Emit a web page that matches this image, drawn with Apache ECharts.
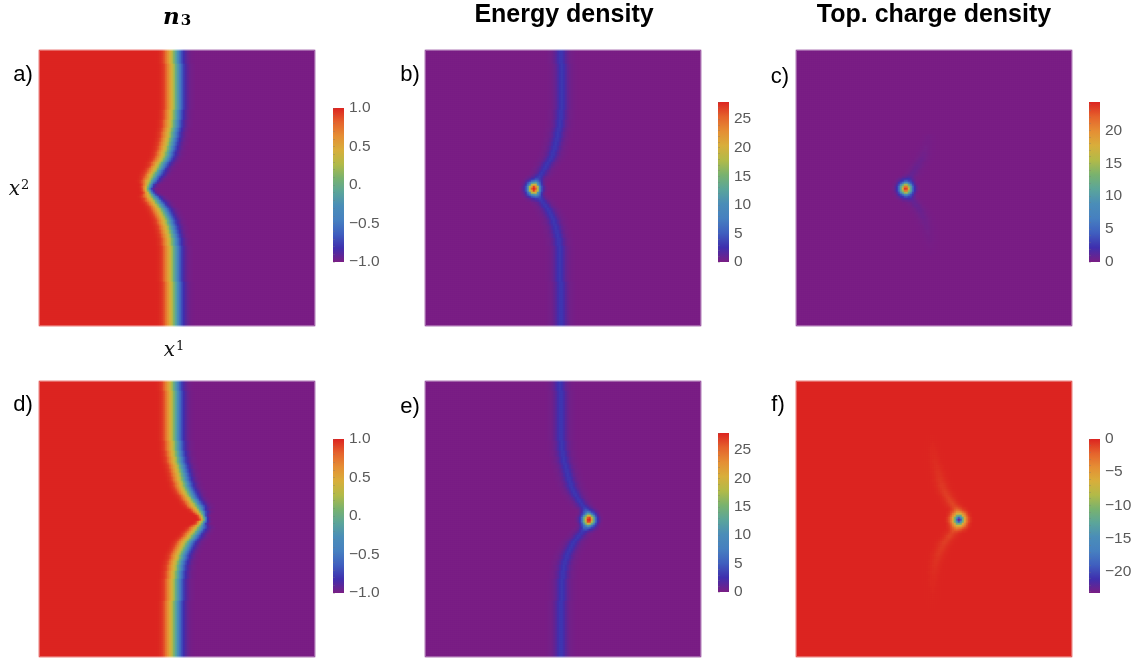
<!DOCTYPE html>
<html><head><meta charset="utf-8">
<style>html,body{margin:0;padding:0;background:#fff}#c{width:1147px;height:659px}</style>
<script src="https://cdn.jsdelivr.net/npm/echarts@6/dist/echarts.min.js"></script>
</head><body><div id="c"></div>
<script>
const wallA=[136,136,136.1,136.2,136.3,136.4,136.5,136.6,136.7,136.7,136.8,136.8,136.9,136.9,137,137,137,137,137,137,137,137,137,137,137,136.9,136.8,136.8,136.7,136.6,136.5,136.4,136.2,136,135.8,135.5,135.2,134.9,134.6,134.2,133.8,133.4,133,132.6,132.2,131.7,131.3,130.8,130.3,129.8,129.2,128.5,127.7,126.8,125.7,124.6,123.4,122.2,121,119.8,118.5,117.3,116.1,114.9,113.7,112.5,111.5,110.5,109.7,109,109.8,111,112.2,113.6,115.2,116.8,118.4,119.8,121.2,122.6,123.8,125,126,127,127.9,128.8,129.5,130.2,130.9,131.5,132,132.5,133,133.4,133.7,134,134.3,134.5,134.7,134.9,135,135.1,135.2,135.3,135.4,135.4,135.4,135.4,135.4,135.4,135.5,135.5,135.5,135.5,135.5,135.5,135.6,135.6,135.6,135.6,135.6,135.7,135.7,135.7,135.7,135.7,135.8,135.8,135.8,135.8,135.9,135.9,135.9,135.9,136,136,136,136];
const wallD=[135.5,135.5,135.5,135.5,135.5,135.6,135.6,135.6,135.6,135.6,135.7,135.7,135.7,135.7,135.7,135.9,135.9,135.9,135.9,135.9,136,136,136,136,136,136.1,136.1,136.2,136.3,136.4,136.6,136.8,137,137.1,137.3,137.6,137.9,138.2,138.6,139,139.5,140,140.6,141.2,141.9,142.2,142.8,143.4,144,144.5,145,145.6,146.4,147.2,148,149,150,151.2,152.5,153.8,155.2,156.6,158,159.3,160.6,162,163,164,165,165.5,164,162.8,161.6,160.3,159,157.4,155.8,154.2,152.6,151,149.5,148.2,147,146,145,144,143.2,142.4,141.7,141,140.4,139.9,139.4,139,138.6,138.3,138,137.8,137.6,137.4,137.2,137,136.9,136.8,136.7,136.6,136.6,136.6,136.6,136.6,136.5,136.5,136.5,136.5,136.5,136.4,136.4,136.4,136.4,136.4,136.4,136.3,136.3,136.3,136.3,136.3,136.3,136.2,136.2,136.2,136.2,136.2,136.1,136.1,136.1,136,136,136];
// horizontal squeeze of the wall, one value per 3-unit row
const widthA=[1,1,1,1,1,1,1,1,1,1,1,1,1,1,1,1,1,1,1,1,1,1,1,1,1,1,1,1,1,1,1,1,1,1,1,1,1,1,0.95,0.95,0.95,0.95,0.9,0.85,0.75,0.6,0.5,0.55,0.7,0.85,0.95,0.95,0.95,1,1,1,1,1,1,1,1,1,1,1,1,1,1,1,1,1,1,1,1,1,1,1,1,1,1,1,1,1,1,1,1,1,1,1,1,1,1,1];
const widthD=[1,1,1,1,1,1,1,1,1,1,1,1,1,1,1,1,1,1,1,1,1,1,1,1,1,1,1,1,1,1,1,1,1,1,1,1,1,1,0.95,0.95,0.95,0.95,0.9,0.75,0.6,0.45,0.4,0.55,0.75,0.9,0.95,0.95,1,1,1,1,1,1,1,1,1,1,1,1,1,1,1,1,1,1,1,1,1,1,1,1,1,1,1,1,1,1,1,1,1,1,1,1,1,1,1,1];
// n3 across the wall, one value per unit of offset from -21 to +21
const n3Profile=[1,1,0.998,0.995,0.99,0.985,0.975,0.96,0.945,0.925,0.88,0.82,0.75,0.68,0.62,0.55,0.48,0.42,0.34,0.24,0.12,0,-0.09,-0.18,-0.29,-0.42,-0.53,-0.62,-0.7,-0.76,-0.82,-0.86,-0.89,-0.92,-0.94,-0.96,-0.97,-0.98,-0.985,-0.99,-0.995,-1,-1];
// energy density of the wall, one value per unit of distance from the wall
const bandProfile=[3,2.9,2.6,2.2,1.8,1.4,1.05,0.8,0.6,0.45,0.33,0.25,0.18,0.12,0.08,0.05,0.03,0.02,0];
// lump cores, one value per unit of distance from the lump centre
const spotEnergy=[28,26.5,24,20.5,17,13.5,9.5,6,4,2.7,1.7,1,0.6,0.3,0.1,0];
const spotCharge=[23.5,22.5,20,17,14,11,8,5,3.3,2.2,1.4,0.8,0.45,0.2,0.1,0];
const spotChargeNeg=[-22,-21,-18,-14,-10.5,-7.5,-5.5,-4,-2.9,-2,-1.3,-0.8,-0.5,-0.25,-0.1,0];
// faint charge trails along the wall (fraction of bandProfile per 3-unit row)
const trailC=[0,0,0,0,0,0,0,0,0,0,0,0,0,0,0,0,0,0,0,0,0,0,0,0,0,0,0,0,0.03,0.04,0.05,0.06,0.07,0.08,0.1,0.12,0.14,0.16,0.18,0.2,0.23,0.25,0.28,0.3,0.33,0.36,0.36,0.36,0.33,0.3,0.28,0.25,0.23,0.2,0.18,0.16,0.14,0.13,0.11,0.1,0.08,0.07,0.06,0.05,0.04,0.03,0.02,0.02,0.01,0,0,0,0,0,0,0,0,0,0,0,0,0,0,0,0,0,0,0,0,0,0,0];
const trailF=[0,0,0,0,0,0,0,0,0,0,0,0,0,0,0,0,0,0,0.02,0.02,0.03,0.04,0.05,0.06,0.07,0.08,0.09,0.1,0.12,0.13,0.15,0.16,0.18,0.2,0.22,0.24,0.26,0.28,0.3,0.33,0.35,0.38,0.4,0.43,0.45,0.48,0.48,0.45,0.43,0.4,0.38,0.35,0.33,0.3,0.28,0.25,0.23,0.21,0.19,0.17,0.15,0.14,0.12,0.11,0.09,0.08,0.07,0.06,0.05,0.04,0.04,0.03,0.03,0.02,0.02,0.01,0,0,0,0,0,0,0,0,0,0,0,0,0,0,0,0];
// colour scale and colour-bar ticks
const rainbow=['#7A1E84','#3F2FAE','#3F5FBF','#4680C0','#4A8DB8','#5BA59A','#79B26E','#B2BA48','#D8AE3B','#E58E34','#E5622C','#DC2420'];
const ticksN3=[-1,-0.5,0,0.5,1];
const ticksEnergy=[0,5,10,15,20,25];
const ticksCharge=[0,5,10,15,20];
const ticksChargeNeg=[-20,-15,-10,-5,0];
const rangeN3=[-1,1], rangeEnergy=[0,28], rangeCharge=[0,24.3], rangeChargeNeg=[-23.2,0];
const panelTitles=['Energy density','Top. charge density'];

const CELL=2, N=138;
function at(list,i){return list[Math.max(0,Math.min(list.length-1,i))];}
function row3(list,r){return at(list,Math.floor((r*CELL+1)/3));}
function table(fn){const out=[];for(let r=0;r<N;r++)for(let c=0;c<N;c++){out.push([c,r,fn(c*CELL+1,r*CELL+1,r)]);}return out;}
function n3Field(wall,w){return table((x,y,r)=>at(n3Profile,Math.round((x-wall[r])/row3(w,r))+21));}
function dist(x,y,sx,sy){return Math.round(Math.hypot(x-sx,y-sy));}
function bandAt(wall,w,x,r){return at(bandProfile,Math.abs(Math.round((x-wall[r])/row3(w,r))));}
function energyField(wall,w,sx,sy){return table((x,y,r)=>bandAt(wall,w,x,r)+at(spotEnergy,dist(x,y,sx,sy)));}
function chargeField(wall,w,trail,spot,sign,sx,sy){return table((x,y,r)=>sign*row3(trail,r)*bandAt(wall,w,x,r)+at(spot,dist(x,y,sx,sy)));}

const SIZE=276;
const panels=[
 {left:39,top:50,data:n3Field(wallA,widthA),range:rangeN3,bar:[333,108,154],ticks:ticksN3,step:0.1,fmt:'n3'},
 {left:425,top:50,data:energyField(wallA,widthA,109,139),range:rangeEnergy,bar:[718,102,160],ticks:ticksEnergy,step:1},
 {left:796,top:50,data:chargeField(wallA,widthA,trailC,spotCharge,1,110,139),range:rangeCharge,bar:[1089,102,160],ticks:ticksCharge,step:1},
 {left:39,top:381,data:n3Field(wallD,widthD),range:rangeN3,bar:[333,439,154],ticks:ticksN3,step:0.1,fmt:'n3'},
 {left:425,top:381,data:energyField(wallD,widthD,164,139),range:rangeEnergy,bar:[718,433,159],ticks:ticksEnergy,step:1},
 {left:796,top:381,data:chargeField(wallD,widthD,trailF,spotChargeNeg,-1,163,139),range:rangeChargeNeg,bar:[1089,439,154],ticks:ticksChargeNeg,step:1}
];
const cats=[...Array(N).keys()];
const grid=[],xAxis=[],yAxis=[],series=[],visualMap=[];
function label(p){return v=>{
  const s=p.fmt==='n3'?(v===0?'0.':Math.abs(v).toFixed(1)):String(Math.abs(v));
  return (v<0?'\u2212':'')+s;};}
panels.forEach((p,i)=>{
  grid.push({left:p.left,top:p.top,width:SIZE,height:SIZE});
  xAxis.push({type:'category',data:cats,gridIndex:i,show:false});
  yAxis.push({type:'category',data:cats,gridIndex:i,show:false,inverse:true});
  series.push({type:'heatmap',xAxisIndex:i,yAxisIndex:i,data:p.data,progressive:0,silent:true,emphasis:{disabled:true},itemStyle:{borderWidth:0}});
  visualMap.push({type:'continuous',show:false,seriesIndex:i,min:p.range[0],max:p.range[1],inRange:{color:rainbow}});
});
panels.forEach((p,i)=>{
  const j=i+panels.length;
  grid.push({left:p.bar[0],top:p.bar[1],width:11,height:p.bar[2]});
  xAxis.push({type:'value',min:0,max:1,gridIndex:j,show:false});
  const tickMarks=[];
  for(let k=Math.ceil(p.range[0]/p.step);k*p.step<=p.range[1]+1e-9;k++)tickMarks.push(+(k*p.step).toFixed(3));
  yAxis.push({type:'value',gridIndex:j,position:'right',min:p.range[0],max:p.range[1],
    axisLine:{show:false},splitLine:{show:false},
    axisTick:{show:true,inside:false,length:2,customValues:tickMarks,lineStyle:{color:'rgba(120,120,120,0.3)',width:1}},
    axisLabel:{show:true,customValues:p.ticks,margin:5,color:'#5a5a5a',fontFamily:'Liberation Sans',fontSize:15.5,formatter:label(p),hideOverlap:false}});
});
function txt(x,y,text,font){return {type:'text',x:x,y:y,silent:true,style:{text:text,fill:'#000',font:font,textAlign:'center',textVerticalAlign:'middle'}};}
const serifRich={
  v:{fontFamily:'DejaVu Serif',fontStyle:'italic',fontSize:20,fill:'#111'},
  s:{fontFamily:'DejaVu Serif',fontSize:13,fill:'#111',padding:[0,0,8,1]}};
const rampStops=rainbow.map((color,k)=>({offset:k/(rainbow.length-1),color:color}));
const colourBars=panels.map(p=>({type:'rect',silent:true,shape:{x:p.bar[0],y:p.bar[1],width:11,height:p.bar[2]},
  style:{fill:new echarts.graphic.LinearGradient(0,1,0,0,rampStops)}}));
const frames=panels.map(p=>({type:'rect',silent:true,z:10,shape:{x:p.left+0.5,y:p.top+0.5,width:SIZE-1,height:SIZE-1},
  style:{fill:null,stroke:'rgba(255,255,255,0.3)',lineWidth:1}}));
const graphic=[
  ...colourBars,...frames,
  txt(564,15,panelTitles[0],'bold 25px "Liberation Sans"'),
  txt(934,15,panelTitles[1],'bold 25px "Liberation Sans"'),
  {type:'text',x:177,y:18,silent:true,style:{text:'{v|n}{s|3}',textAlign:'center',textVerticalAlign:'middle',rich:{
    v:{fontFamily:'DejaVu Serif',fontStyle:'italic',fontWeight:'bold',fontSize:23,fill:'#000'},
    s:{fontFamily:'DejaVu Serif',fontWeight:'bold',fontSize:15,fill:'#000',padding:[7,0,0,1]}}}},
  {type:'text',x:19,y:190,silent:true,style:{text:'{v|x}{s|2}',textAlign:'center',textVerticalAlign:'middle',rich:serifRich}},
  {type:'text',x:174,y:351,silent:true,style:{text:'{v|x}{s|1}',textAlign:'center',textVerticalAlign:'middle',rich:serifRich}},
  txt(23,75,'a)','22px "Liberation Sans"'),
  txt(410,75,'b)','22px "Liberation Sans"'),
  txt(780,77,'c)','22px "Liberation Sans"'),
  txt(23,405,'d)','22px "Liberation Sans"'),
  txt(410,407,'e)','22px "Liberation Sans"'),
  txt(778,405,'f)','22px "Liberation Sans"')
];
const chart=echarts.init(document.getElementById('c'),null,{renderer:'canvas'});
chart.setOption({animation:false,backgroundColor:'#fff',tooltip:{show:false},grid,xAxis,yAxis,series,visualMap,graphic});
</script></body></html>
